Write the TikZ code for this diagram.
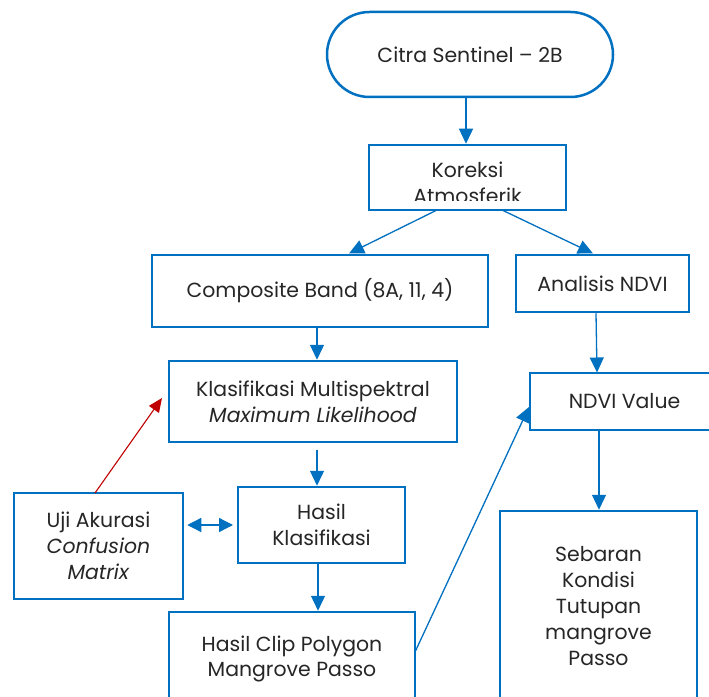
\documentclass[tikz,border=0pt]{standalone}
\usepackage{fontspec}
\setmainfont{Poppins}
\usetikzlibrary{arrows.meta}
\definecolor{bl}{HTML}{0070C0}
\definecolor{rd}{HTML}{C00000}
\begin{document}
\begin{tikzpicture}[x=1bp,y=-1bp,
  box/.style={draw=bl,line width=2.5bp,rectangle,align=center,inner sep=0pt,
    font=\fontsize{20.5}{26}\selectfont,text=black!85},
  txt/.style={font=\fontsize{20.5}{26}\selectfont,text=black!85,inner sep=0pt},
  conn/.style={draw=bl,line width=1.3bp,-{Triangle[width=14bp,length=15bp]}},
  dconn/.style={draw=bl,line width=1.3bp,{Triangle[width=14bp,length=14bp]}-{Triangle[width=14bp,length=14bp]}},
  rconn/.style={draw=rd,line width=1.1bp,-{Triangle[width=12bp,length=14bp]}}]
\useasboundingbox (0,0) rectangle (709,697);
\clip (0,0) rectangle (709,697);
\fill[white] (0,0) rectangle (709,697);
% nodes
\node[box,rounded corners=42.5bp,minimum width=286bp,minimum height=85bp] (cit) at (470,54.5) {Citra Sentinel – 2B};
\node[box,minimum width=197bp,minimum height=65bp] (kor) at (467.5,177.5) {};
\begin{scope}
  \clip (370,146) rectangle (565,200);
  \node[txt,anchor=base] (kor1) at (467.5,177) {Koreksi};
  \node[txt,anchor=base] (kor2) at (467.5,203) {Atmosferik};
\end{scope}
\node[box,minimum width=336bp,minimum height=72bp] (comp) at (320,291) {\raisebox{-3bp}{Composite Band (8A, 11, 4)}};
\node[box,minimum width=173bp,minimum height=57bp] (ana) at (602.5,283.5) {Analisis NDVI};
\node[box,minimum width=288bp,minimum height=81bp] (kla) at (313,401.5) {Klasifikasi Multispektral\\\textit{Maximum Likelihood}};
\node[box,minimum width=189bp,minimum height=57bp] (ndv) at (624.5,401.5) {NDVI Value};
\node[box,minimum width=167bp,minimum height=76bp] (hk) at (321.5,525) {Hasil\\Klasifikasi};
\node[box,minimum width=169bp,minimum height=106bp] (uji) at (98.5,546) {Uji Akurasi\\\textit{Confusion}\\\textit{Matrix}};
\node[box,minimum width=246bp,minimum height=94bp] (clip) at (292,659) {Hasil Clip Polygon\\Mangrove Passo};
\node[box,minimum width=197bp,minimum height=190bp] (seb) at (598.5,606) {Sebaran\\Kondisi\\Tutupan\\mangrove\\Passo};
% helper coordinates
\coordinate (kor-l) at (437,210);
\coordinate (kor-r) at (502,210);
\coordinate (comp-t) at (349,253.5);
\coordinate (ana-t) at (593,253.5);
\coordinate (kla-b) at (317,450);
\coordinate (ndv-l) at (529,407);
\coordinate (clip-r) at (415,652);
\coordinate (uji-t) at (95,493);
\coordinate (kla-l) at (162,398);
% connectors
\draw[conn] (cit.south -| 466,0) -- (kor.north -| 466,0);
\draw[conn] (kor-l) -- (comp-t);
\draw[conn] (kor-r) -- (ana-t);
\draw[conn] (comp.south -| 317,0) -- (kla.north -| 317,0);
\draw[conn] (ana.south -| 596,0) -- (597,372.5);
\draw[conn] (kla-b) -- (hk.north -| 317,0);
\draw[conn] (hk.south -| 318,0) -- (clip.north -| 318,0);
\draw[dconn] (uji.east) ++(3,-21) coordinate (uji-e) -- (233,525);
\draw[rconn] (uji-t) -- (kla-l);
\draw[conn] (clip-r) -- (ndv-l);
\draw[conn] (ndv.south -| 599,0) -- (seb.north -| 599,0);
\end{tikzpicture}
\end{document}
